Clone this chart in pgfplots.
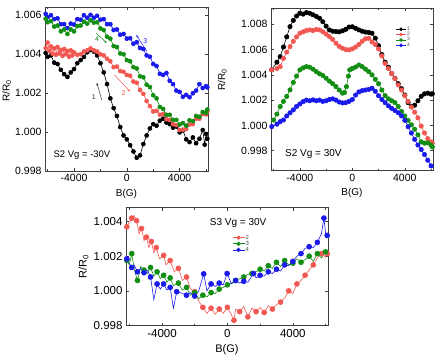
\documentclass[border=0pt]{standalone}
\usepackage{fontspec}
\setmainfont{Liberation Sans}
\usepackage{pgfplots}
\pgfplotsset{compat=1.18}
\usetikzlibrary{arrows.meta}

\definecolor{cblack}{RGB}{0,0,0}
\definecolor{cred}{RGB}{242,88,82}
\definecolor{cgreen}{RGB}{18,142,18}
\definecolor{cblue}{RGB}{26,26,236}

\tikzset{arr/.style={-{Stealth[length=3pt,width=2pt]}, line width=0.5pt}}

\pgfplotsset{
  rpanel/.style={
    scale only axis,
    axis line style={line width=0.5pt, black!75},
    xmin=-6200, xmax=6150,
    xtick={-4000,0,4000},
    minor xtick={-6000,-2000,2000,6000},
    tick align=inside,
    major tick length=3pt, minor tick length=2pt,
    tick style={black!75, line width=0.5pt},
    xlabel={B(G)}, ylabel={R/R\textsubscript{0}},
    /pgf/number format/assume math mode=true,
    xticklabel style={/pgf/number format/set thousands separator={}},
    yticklabel style={/pgf/number format/fixed, /pgf/number format/fixed zerofill, /pgf/number format/precision=3},
    scaled y ticks=false, scaled x ticks=false,
    tick label style={font=\fontsize{10.5}{12}\selectfont},
    label style={font=\fontsize{10}{12}\selectfont},
    ylabel style={anchor=center},
    every axis plot/.append style={line width=0.6pt, mark=*, mark size=2pt},
    legend image code/.code={\draw[mark repeat=2,mark phase=2] plot coordinates {(0pt,0pt) (5pt,0pt) (10pt,0pt)};},
  },
}

\begin{document}
\begin{tikzpicture}
\useasboundingbox (0,0) rectangle (436pt,-357pt);

% ---------------- S2, Vg = -30 V ----------------
\begin{axis}[rpanel,
  at={(45pt,-171pt)}, anchor=south west,
  width=163pt, height=164pt,
  ymin=0.998, ymax=1.0064,
  ytick={0.998,1.000,1.002,1.004,1.006},
  ylabel style={at={(axis description cs:-0.235,0.49)}},
]
\addplot[cblack] table {
-6150 1.00405
-6000 1.00385
-5750 1.00392
-5500 1.00355
-5250 1.00348
-5000 1.00318
-4750 1.00296
-4500 1.00282
-4250 1.00305
-4000 1.00322
-3750 1.00352
-3500 1.00368
-3250 1.00384
-3000 1.00408
-2750 1.00420
-2500 1.00412
-2250 1.00392
-2000 1.00352
-1750 1.00305
-1500 1.00245
-1250 1.00172
-1000 1.00122
-750 1.00082
-500 1.00025
-250 0.99982
0 0.99962
250 0.99932
500 0.99900
750 0.99868
1000 0.99880
1250 0.99938
1500 0.99982
1750 1.00018
2000 1.00040
2250 1.00032
2500 1.00058
2750 1.00068
3000 1.00048
3250 1.00040
3500 1.00022
3750 1.00028
4000 0.99998
4250 1.00008
4500 0.99962
4750 0.99948
5000 0.99972
5250 0.99942
5500 0.99965
5750 1.00010
5900 0.99935
6000 0.99990
6100 0.99965
};
\addplot[cred] table {
-6150 1.00430
-6000 1.00458
-5875 1.00415
-5750 1.00438
-5625 1.00400
-5500 1.00428
-5375 1.00395
-5250 1.00435
-5125 1.00402
-5000 1.00420
-4875 1.00390
-4750 1.00425
-4625 1.00398
-4500 1.00415
-4375 1.00385
-4250 1.00418
-4125 1.00392
-4000 1.00408
-3750 1.00395
-3500 1.00398
-3250 1.00412
-3000 1.00418
-2750 1.00428
-2500 1.00418
-2250 1.00412
-2000 1.00398
-1750 1.00392
-1500 1.00375
-1250 1.00362
-1000 1.00332
-750 1.00335
-500 1.00312
-250 1.00308
0 1.00292
250 1.00288
500 1.00258
750 1.00252
1000 1.00215
1250 1.00195
1500 1.00158
1750 1.00132
2000 1.00105
2250 1.00108
2500 1.00088
2750 1.00092
3000 1.00065
3250 1.00062
3500 1.00040
3750 1.00035
4000 1.00010
4250 1.00012
4500 1.00015
4750 1.00038
5000 1.00040
5250 1.00068
5500 1.00068
5750 1.00092
6000 1.00090
6100 1.00105
};
\addplot[cblue] table {
-6150 1.00605
-6000 1.00588
-5750 1.00598
-5500 1.00578
-5250 1.00582
-5000 1.00552
-4750 1.00552
-4500 1.00532
-4250 1.00555
-4000 1.00550
-3750 1.00578
-3500 1.00575
-3250 1.00598
-3000 1.00585
-2750 1.00600
-2500 1.00585
-2250 1.00595
-2000 1.00575
-1750 1.00578
-1500 1.00552
-1250 1.00552
-1000 1.00522
-750 1.00525
-500 1.00498
-250 1.00502
0 1.00478
250 1.00480
500 1.00452
750 1.00460
1000 1.00430
1250 1.00425
1500 1.00392
1750 1.00385
2000 1.00348
2250 1.00338
2500 1.00298
2750 1.00292
3000 1.00302
3250 1.00262
3500 1.00245
3750 1.00212
4000 1.00205
4250 1.00180
4500 1.00190
4750 1.00178
5000 1.00198
5250 1.00212
5500 1.00245
5750 1.00225
6000 1.00235
6100 1.00228
};
\addplot[cgreen] table {
-6150 1.00580
-6000 1.00562
-5750 1.00568
-5500 1.00540
-5250 1.00545
-5000 1.00515
-4750 1.00525
-4500 1.00502
-4250 1.00525
-4000 1.00515
-3750 1.00542
-3500 1.00545
-3250 1.00565
-3000 1.00555
-2750 1.00572
-2500 1.00560
-2250 1.00562
-2000 1.00530
-1750 1.00522
-1500 1.00488
-1250 1.00478
-1000 1.00440
-750 1.00435
-500 1.00402
-250 1.00398
0 1.00368
250 1.00362
500 1.00332
750 1.00325
1000 1.00285
1250 1.00280
1500 1.00242
1750 1.00230
2000 1.00188
2250 1.00172
2500 1.00128
2750 1.00118
3000 1.00088
3250 1.00088
3500 1.00062
3750 1.00062
4000 1.00038
4250 1.00045
4500 1.00032
4750 1.00060
5000 1.00055
5250 1.00082
5500 1.00078
5750 1.00102
6000 1.00098
6100 1.00115
};
% sweep-direction arrows
\draw[arr, black!80] (axis cs:-1898,1.001635) -- (axis cs:-2277,1.002524);
\node[black!80, font=\fontsize{7}{8}\selectfont] at (axis cs:-2505,1.00179) {1};
\draw[arr, cred] (axis cs:-934,1.00292) -- (axis cs:258,1.00206);
\node[cred, font=\fontsize{7}{8}\selectfont] at (axis cs:-250,1.0020) {2};
\draw[arr, cblue] (axis cs:1518,1.00412) -- (axis cs:713,1.004976);
\node[cblue, font=\fontsize{7}{8}\selectfont] at (axis cs:1397,1.00467) {3};
\draw[arr, cgreen] (axis cs:-2323,1.005064) -- (axis cs:-1518,1.00455);
\node[cgreen, font=\fontsize{7}{8}\selectfont] at (axis cs:-2247,1.004745) {4};
\node[font=\fontsize{9.5}{11}\selectfont] at (axis cs:-3400,0.998807) {S2 Vg = -30V};
\end{axis}

% ---------------- S2, Vg = 30 V ----------------
\begin{axis}[rpanel,
  at={(271pt,-170.7pt)}, anchor=south west,
  width=162pt, height=162.4pt,
  ymin=0.99642, ymax=1.00926,
  ytick={0.998,1.000,1.002,1.004,1.006,1.008},
  ylabel style={at={(axis description cs:-0.30,0.56)}},
  every axis plot/.append style={mark size=2.2pt},
  legend style={at={(0.75,0.905)}, anchor=north west, draw=none, fill=none,
    font=\fontsize{5}{5.5}\selectfont, text=black!70,
    row sep=-1.2pt, nodes={inner sep=0.8pt}},
  legend cell align=left,
  legend image code/.code={\draw[mark repeat=2,mark phase=2, mark size=1.5pt] plot coordinates {(0pt,0pt) (5pt,0pt) (10pt,0pt)};},
]
\addplot[cblack] table {
-6150 1.00439
-5750 1.00500
-5500 1.00544
-5250 1.00620
-5000 1.00700
-4750 1.00781
-4500 1.00830
-4250 1.00865
-4000 1.00887
-3750 1.00880
-3500 1.00892
-3250 1.00887
-3000 1.00875
-2750 1.00862
-2500 1.00847
-2250 1.00820
-2000 1.00785
-1750 1.00755
-1500 1.00745
-1250 1.00742
-1000 1.00740
-750 1.00748
-500 1.00760
-250 1.00778
0 1.00780
250 1.00768
500 1.00755
750 1.00745
1000 1.00738
1250 1.00735
1500 1.00729
1750 1.00690
2000 1.00630
2250 1.00560
2500 1.00500
2750 1.00460
3000 1.00410
3250 1.00372
3500 1.00330
3750 1.00290
4000 1.00240
4250 1.00180
4500 1.00149
4750 1.00160
5000 1.00195
5250 1.00230
5500 1.00250
5750 1.00255
6000 1.00248
6100 1.00250
};
\addlegendentry{1}
\addplot[cred] table {
-6150 1.00439
-5750 1.00450
-5500 1.00465
-5250 1.00530
-5000 1.00580
-4750 1.00623
-4500 1.00665
-4250 1.00700
-4000 1.00729
-3750 1.00740
-3500 1.00750
-3250 1.00755
-3000 1.00750
-2750 1.00758
-2500 1.00755
-2250 1.00740
-2000 1.00722
-1750 1.00702
-1500 1.00680
-1250 1.00650
-1000 1.00625
-750 1.00610
-500 1.00600
-250 1.00597
0 1.00605
250 1.00620
500 1.00640
750 1.00665
1000 1.00685
1250 1.00689
1500 1.00660
1750 1.00640
2000 1.00605
2250 1.00550
2500 1.00490
2750 1.00450
3000 1.00410
3250 1.00370
3500 1.00320
3750 1.00280
4000 1.00235
4250 1.00190
4500 1.00145
4750 1.00105
5000 1.00060
5250 0.99995
5500 0.99940
5750 0.99895
6000 0.99870
6100 0.99860
};
\addlegendentry{2}
\addplot[cgreen] table {
-6000 1.00043
-5750 1.00090
-5500 1.00149
-5250 1.00190
-5000 1.00230
-4750 1.00281
-4500 1.00340
-4250 1.00390
-4000 1.00439
-3750 1.00455
-3500 1.00465
-3250 1.00460
-3000 1.00445
-2750 1.00425
-2500 1.00408
-2250 1.00395
-2000 1.00373
-1750 1.00350
-1500 1.00330
-1250 1.00307
-1000 1.00280
-750 1.00255
-600 1.00260
-450 1.00307
-300 1.00390
-200 1.00439
0 1.00450
250 1.00462
500 1.00478
750 1.00465
1000 1.00445
1250 1.00425
1500 1.00400
1750 1.00365
2000 1.00330
2250 1.00280
2500 1.00235
2750 1.00210
3000 1.00195
3250 1.00180
3500 1.00150
3750 1.00110
4000 1.00075
4250 1.00040
4500 1.00005
4750 0.99970
5000 0.99925
5250 0.99870
5500 0.99860
5750 0.99862
6000 0.99845
6100 0.99830
};
\addlegendentry{3}
\addplot[cblue] table {
-6140 0.99991
-5750 1.00010
-5500 1.00030
-5250 1.00043
-5000 1.00075
-4750 1.00100
-4500 1.00123
-4250 1.00150
-4000 1.00170
-3750 1.00188
-3500 1.00200
-3250 1.00195
-3000 1.00202
-2750 1.00195
-2500 1.00200
-2250 1.00190
-2000 1.00195
-1750 1.00205
-1500 1.00210
-1250 1.00200
-1000 1.00185
-750 1.00178
-500 1.00180
-250 1.00190
0 1.00205
250 1.00240
500 1.00265
750 1.00275
1000 1.00280
1250 1.00285
1500 1.00294
1750 1.00270
2000 1.00235
2250 1.00205
2500 1.00180
2750 1.00155
3000 1.00135
3250 1.00118
3500 1.00100
3750 1.00075
4000 1.00040
4250 0.99990
4500 0.99940
4750 0.99890
5000 0.99845
5250 0.99810
5500 0.99770
5750 0.99725
6000 0.99680
};
\addlegendentry{4}
\node[font=\fontsize{10}{12}\selectfont] at (axis cs:-2970,0.997747) {S2 Vg = 30V};
\end{axis}

% ---------------- S3, Vg = 30 V ----------------
\begin{axis}[rpanel,
  at={(126pt,-325.5pt)}, anchor=south west,
  width=202pt, height=117.8pt,
  ymin=0.998, ymax=1.0048,
  ytick={0.998,1.000,1.002,1.004},
  tick label style={font=\fontsize{11.5}{13}\selectfont},
  label style={font=\fontsize{11}{13}\selectfont},
  ylabel style={at={(axis description cs:-0.21,0.50)}},
  every axis plot/.append style={mark size=2.5pt, mark repeat=2},
  legend style={at={(0.51,0.795)}, anchor=north west, draw=none, fill=none,
    font=\fontsize{6}{6.5}\selectfont, text=black!70,
    row sep=-1.2pt, nodes={inner sep=0.8pt}},
  legend cell align=left,
  legend image code/.code={\draw[mark repeat=2,mark phase=2, mark size=1.8pt] plot coordinates {(0pt,0pt) (6pt,0pt) (12pt,0pt)};},
]
\addplot[cred] table {
-6150 1.00370
-6000 1.00395
-5850 1.00420
-5700 1.00435
-5550 1.00405
-5400 1.00330
-5250 1.00360
-5100 1.00290
-4950 1.00310
-4800 1.00250
-4650 1.00285
-4500 1.00220
-4350 1.00250
-4150 1.00185
-3900 1.00205
-3750 1.00150
-3500 1.00175
-3250 1.00110
-3000 1.00130
-2750 1.00060
-2500 1.00080
-2250 1.00010
-2000 0.99995
-1750 0.99940
-1500 0.99905
-1250 0.99870
-1000 0.99900
-750 0.99865
-500 0.99895
-250 0.99870
0 0.99905
250 0.99860
400 0.99830
500 0.99895
750 0.99880
1000 0.99910
1250 0.99850
1500 0.99900
1750 0.99880
2000 0.99905
2250 0.99875
2500 0.99915
2750 0.99895
3000 0.99920
3250 0.99935
3500 0.99960
3750 1.00000
4000 0.99985
4250 1.00040
4500 1.00060
4750 1.00090
5000 1.00120
5250 1.00150
5500 1.00190
5750 1.00215
6000 1.00195
6100 1.00215
};
\addlegendentry{2}
\addplot[cgreen] table {
-6150 1.00176
-6000 1.00150
-5850 1.00215
-5700 1.00125
-5500 1.00060
-5300 1.00140
-5100 1.00120
-4900 1.00100
-4700 1.00135
-4500 1.00085
-4300 1.00110
-4100 1.00070
-3900 1.00090
-3700 1.00050
-3500 1.00075
-3300 1.00030
-3000 1.00045
-2750 1.00005
-2500 1.00020
-2250 0.99975
-2000 0.99990
-1750 0.99955
-1500 0.99975
-1250 0.99965
-1000 0.99990
-750 0.99985
-500 1.00010
-250 1.00020
0 1.00035
250 1.00045
500 1.00060
750 1.00070
1000 1.00080
1250 1.00095
1500 1.00100
1750 1.00110
2000 1.00125
2250 1.00115
2500 1.00145
2750 1.00130
3000 1.00165
3250 1.00140
3500 1.00175
3750 1.00150
4000 1.00160
4250 1.00185
4500 1.00165
4750 1.00180
5000 1.00200
5250 1.00170
5500 1.00215
5750 1.00190
6000 1.00225
6100 1.00195
};
\addlegendentry{3}
\addplot[cblue] table {
-6150 1.00185
-6000 1.00160
-5850 1.00135
-5700 1.00150
-5500 1.00110
-5300 1.00130
-5100 1.00105
-4900 1.00120
-4700 1.00080
-4500 0.99950
-4300 1.00040
-4100 1.00010
-3900 1.00040
-3700 1.00005
-3500 1.00020
-3300 0.99900
-3100 0.99995
-2750 0.99985
-2500 0.99975
-2250 0.99990
-2000 0.99970
-1750 1.00000
-1450 1.00098
-1250 1.00000
-1000 1.00040
-750 1.00025
-500 1.00045
-250 1.00035
-20 1.00100
250 1.00040
500 1.00060
750 1.00045
1000 1.00055
1250 1.00050
1600 1.00100
1750 1.00075
2000 1.00090
2250 1.00085
2500 1.00110
2750 1.00100
3000 1.00125
3250 1.00115
3500 1.00150
3750 1.00145
4000 1.00170
4250 1.00200
4500 1.00215
4750 1.00245
5000 1.00255
5250 1.00250
5500 1.00280
5750 1.00330
5900 1.00420
6000 1.00335
6100 1.00320
};
\addlegendentry{4}
\node[font=\fontsize{10}{12}\selectfont] at (axis cs:653,1.003925) {S3 Vg = 30V};
\end{axis}
\end{tikzpicture}
\end{document}
